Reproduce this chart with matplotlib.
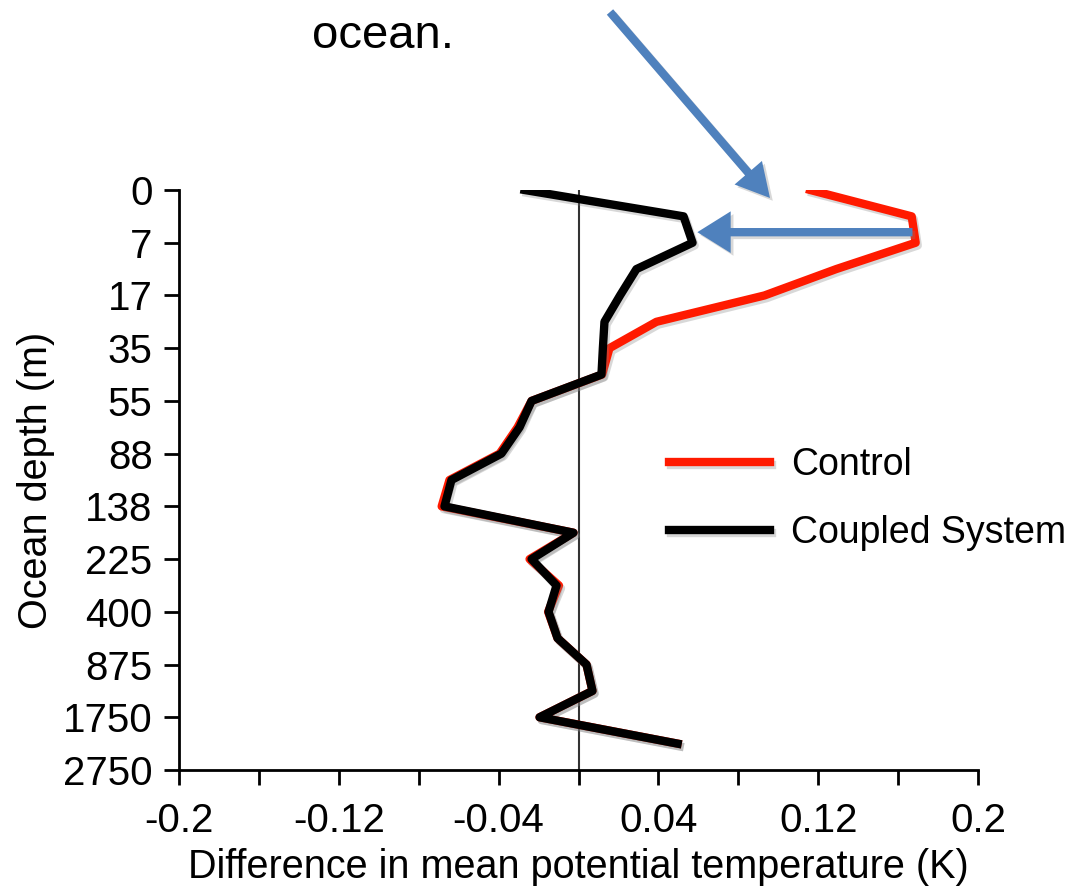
import matplotlib
matplotlib.use("Agg")
import matplotlib.pyplot as plt
import matplotlib.patheffects as pe
import numpy as np

plt.rcParams['font.family'] = ['Liberation Sans', 'DejaVu Sans']

# depth labels shown on the axis (every other model level)
depth_labels = ['0', '7', '17', '35', '55', '88', '138', '225', '400', '875', '1750', '2750']

# difference in mean potential temperature (K), one value per half label step
control = [0.116, 0.1668, 0.1688, 0.129, 0.0931, 0.039, 0.0155, 0.0118,
           -0.0235, -0.0305, -0.0395, -0.0646, -0.0685, -0.0025, -0.0245, -0.0098,
           -0.0152, -0.0105, 0.004, 0.007, -0.0195, 0.0496]
coupled = [-0.027, 0.0526, 0.0571, 0.029, 0.0208, 0.013, 0.0122, 0.0115,
           -0.0235, -0.0295, -0.0386, -0.0636, -0.0671, -0.0025, -0.0235, -0.011,
           -0.015, -0.0105, 0.004, 0.007, -0.0195, 0.0496]

x_ticks = np.round(np.arange(-0.2, 0.2001, 0.04), 2)
x_labels = ['-0.2', '', '-0.12', '', '-0.04', '', '0.04', '', '0.12', '', '0.2']

levels = np.arange(len(coupled)) / 2.0

fig = plt.figure(figsize=(10.72, 8.9), dpi=100)
ax = fig.add_axes([179 / 1072, 1 - 770 / 890, (978 - 179) / 1072, (770 - 190) / 890])

shadow = [pe.SimpleLineShadow(offset=(1.5, -2), shadow_color='gray', alpha=0.3), pe.Normal()]

ax.axvline(0, color='#333333', lw=1.5, zorder=1)
ax.plot(control, levels, color='#ff1a00', lw=6, solid_joinstyle='round',
        label='Control', path_effects=shadow, zorder=2)
ax.plot(coupled, levels, color='black', lw=6, solid_joinstyle='round',
        label='Coupled System', path_effects=shadow, zorder=3)

ax.set_xlim(-0.2, 0.2)
ax.set_ylim(len(depth_labels) - 1, 0)
ax.set_yticks(np.arange(len(depth_labels)))
ax.set_yticklabels(depth_labels)
ax.set_xticks(x_ticks)
ax.set_xticklabels(x_labels)

for s in ['top', 'right']:
    ax.spines[s].set_visible(False)
for s in ['left', 'bottom']:
    ax.spines[s].set_linewidth(2)
ax.tick_params(axis='both', direction='out', length=11, width=2, labelsize=29)
ax.tick_params(axis='y', pad=8)
ax.tick_params(axis='x', pad=12)

ax.set_xlabel('Difference in mean potential temperature (K)', fontsize=28.5, labelpad=6)
ax.set_ylabel('Ocean depth (m)', fontsize=28.5, labelpad=6)

leg = ax.legend(loc='center left', bbox_to_anchor=(669 / 1072, 1 - 499 / 890),
                bbox_transform=fig.transFigure, frameon=False, fontsize=27,
                handlelength=2.7, handletextpad=0.55, labelspacing=0.85,
                borderpad=0, borderaxespad=0)

# slide annotation arrows
blue = '#4f81bd'
arrow_fx = [pe.withSimplePatchShadow(offset=(2, -2), shadow_rgbFace='gray', alpha=0.3)]
ax.annotate('', xy=(0.0595, 0.8), xytext=(0.1672, 0.8),
            arrowprops=dict(width=6, headwidth=30, headlength=24, color=blue, lw=0,
                            shrink=0, path_effects=arrow_fx), zorder=4)
ax.annotate('', xy=(770, 890 - 198), xytext=(610, 890 - 12),
            xycoords='figure pixels', textcoords='figure pixels',
            arrowprops=dict(width=6, headwidth=26, headlength=24, color=blue, lw=0,
                            shrink=0, path_effects=arrow_fx), annotation_clip=False)

fig.text(312 / 1072, 1 - 48 / 890, 'ocean.', fontsize=34, ha='left', va='baseline')

fig.savefig('out.png', dpi=100)
